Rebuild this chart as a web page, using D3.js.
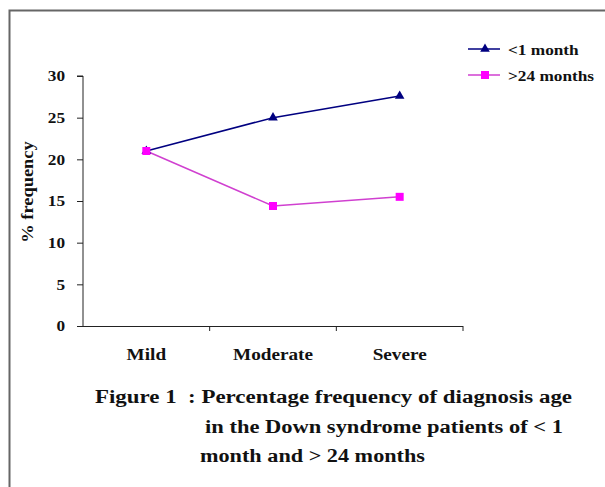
<!DOCTYPE html>
<html>
<head>
<meta charset="utf-8">
<script src="https://cdn.jsdelivr.net/npm/d3@7"></script>
<style>
  body { margin: 0; background: #fff; }
  text { font-family: "Liberation Serif", "DejaVu Serif", serif; font-weight: bold; fill: #111; }
</style>
</head>
<body>
<div id="chart"></div>
<script>
const categories = ['Mild', 'Moderate', 'Severe'];
const underOneMonth = [21, 25, 27.6];
const over24Months = [21, 14.4, 15.5];
const yTicks = [0, 5, 10, 15, 20, 25, 30];
const seriesNames = ['<1 month', '>24 months'];
const captionLines = [
  'Figure 1  : Percentage frequency of diagnosis age',
  'in the Down syndrome patients of < 1',
  'month and > 24 months',
];

const width = 605;
const height = 487;

// the source picture is stretched sideways, so text gets widened to match
const widen = (sel, factor) =>
  sel.each(function () {
    const w = this.getComputedTextLength();
    d3.select(this).attr('textLength', w * factor).attr('lengthAdjust', 'spacingAndGlyphs');
  });

const svg = d3.select('#chart').append('svg').attr('width', width).attr('height', height);

// outer frame (runs off the right and bottom edges)
svg
  .append('path')
  .attr('d', `M9.5,${height} V10.5 H${width}`)
  .attr('fill', 'none')
  .attr('stroke', '#666')
  .attr('stroke-width', 2);

const x = d3.scaleBand().domain(categories).range([83, 463]);
const y = d3.scaleLinear().domain([0, 30]).range([326, 76]);

const yAxis = d3.axisLeft(y).tickValues(yTicks).tickSize(6).tickPadding(12);

const gy = svg.append('g').attr('transform', 'translate(83,0)').call(yAxis);
gy.select('.domain').attr('stroke', '#222').attr('d', `M-6,${y(30)}H0V${y(0)}`);
gy.selectAll('.tick line').attr('stroke', '#222');
gy.selectAll('.tick text')
  .style('font-size', '15px')
  .style('font-family', '"Liberation Serif", serif')
  .style('font-weight', 'bold')
  .attr('fill', '#111')
  .call(widen, 1.15);

const gx = svg.append('g').attr('transform', 'translate(0,326)');
gx.append('path').attr('stroke', '#222').attr('fill', 'none').attr('d', `M83,0.5H463`);

// category boundary ticks
gx.selectAll('.sep')
  .data(categories)
  .enter()
  .append('line')
  .attr('x1', (d) => x(d) + x.bandwidth())
  .attr('x2', (d) => x(d) + x.bandwidth())
  .attr('y1', 0)
  .attr('y2', 5)
  .attr('stroke', '#222');

gx.selectAll('.cat')
  .data(categories)
  .enter()
  .append('text')
  .attr('x', (d) => x(d) + x.bandwidth() / 2)
  .attr('y', 34)
  .style('text-anchor', 'middle')
  .style('font-size', '16px')
  .text((d) => d)
  .call(widen, 1.2);

svg
  .append('text')
  .attr('transform', 'rotate(-90)')
  .attr('x', -192)
  .attr('y', 33)
  .style('text-anchor', 'middle')
  .style('font-size', '16px')
  .text('% frequency')
  .call(widen, 1.15);

const cx = (d, i) => x(categories[i]) + x.bandwidth() / 2;

const line = d3
  .line()
  .x((d, i) => cx(d, i))
  .y((d) => y(d));

const navy = '#000080';
const magenta = '#ff00ff';
const pinkLine = '#d040d0';

svg.append('path').datum(underOneMonth).attr('fill', 'none').attr('stroke', navy).attr('stroke-width', 1.5).attr('d', line);
svg.append('path').datum(over24Months).attr('fill', 'none').attr('stroke', pinkLine).attr('stroke-width', 1.5).attr('d', line);

const tri = d3.symbol().type(d3.symbolTriangle).size(40);

svg
  .selectAll('.tri')
  .data(underOneMonth)
  .enter()
  .append('path')
  .attr('transform', (d, i) => `translate(${cx(d, i)},${y(d)})`)
  .attr('d', tri)
  .attr('fill', navy);

svg
  .selectAll('.sq')
  .data(over24Months)
  .enter()
  .append('rect')
  .attr('x', (d, i) => cx(d, i) - 4)
  .attr('y', (d) => y(d) - 4)
  .attr('width', 8)
  .attr('height', 8)
  .attr('fill', magenta);

// legend
const legend = svg.append('g').attr('transform', 'translate(468,49)');
seriesNames.forEach((name, i) => {
  const g = legend.append('g').attr('transform', `translate(0,${i * 26})`);
  g.append('line').attr('x1', 0).attr('x2', 32).attr('stroke', i === 0 ? navy : pinkLine).attr('stroke-width', 1.5);
  if (i === 0) {
    g.append('path').attr('transform', 'translate(17,0)').attr('d', tri).attr('fill', navy);
  } else {
    g.append('rect').attr('x', 13).attr('y', -4).attr('width', 8).attr('height', 8).attr('fill', magenta);
  }
  g.append('text').attr('x', 40).attr('y', 6).style('font-size', '15px').text(name).call(widen, 1.15);
});

// caption
const captionX = [95, 205, 200];
const captionY = [403, 433, 462];
const captionW = [477, 358, 225];
captionLines.forEach((t, i) => {
  svg
    .append('text')
    .attr('x', captionX[i])
    .attr('y', captionY[i])
    .style('font-size', '18px')
    .style('white-space', 'pre')
    .attr('textLength', captionW[i])
    .attr('lengthAdjust', 'spacingAndGlyphs')
    .text(t);
});
</script>
</body>
</html>
